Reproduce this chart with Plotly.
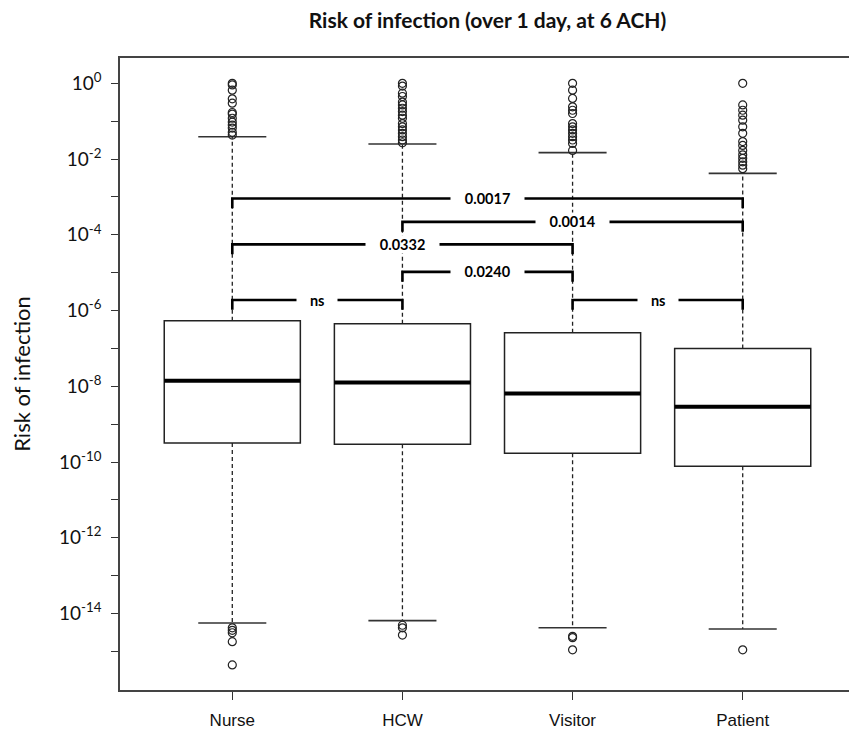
import math
import plotly.graph_objects as go

# ---------------- data ----------------
categories = ["Nurse", "HCW", "Visitor", "Patient"]
q1 = [3.2e-10, 2.95e-10, 1.7e-10, 7.8e-11]
median = [1.4e-8, 1.26e-8, 6.5e-9, 2.9e-9]
q3 = [5.4e-7, 4.5e-7, 2.6e-7, 1.0e-7]
whisker_low = [5.6e-15, 6.5e-15, 4.2e-15, 3.9e-15]
whisker_high = [0.039, 0.025, 0.0148, 0.0042]

nurse_out_high = [1.0, 0.91, 0.66, 0.39, 0.30, 0.17, 0.155, 0.12, 0.095, 0.079, 0.066, 0.051, 0.043]
nurse_out_low = [4.2e-15, 3.6e-15, 3.1e-15, 1.8e-15, 4.4e-16]
hcw_out_high = [1.0, 0.85, 0.55, 0.45, 0.32, 0.27, 0.22, 0.18, 0.145, 0.12, 0.087, 0.071,
                0.059, 0.048, 0.039, 0.032, 0.027]
hcw_out_low = [4.9e-15, 4.2e-15, 2.7e-15]
visitor_out_high = [1.0, 0.66, 0.40, 0.24, 0.195, 0.16, 0.087, 0.071, 0.059, 0.048, 0.039,
                    0.032, 0.026, 0.017]
visitor_out_low = [2.5e-15, 2.3e-15, 1.1e-15]
patient_out_high = [1.0, 0.27, 0.195, 0.145, 0.107, 0.071, 0.048, 0.029, 0.023, 0.017, 0.013,
                    0.0105, 0.0085, 0.0069, 0.0056]
patient_out_low = [1.1e-15]

# significance comparisons
comp_from = ["Nurse", "HCW", "Nurse", "HCW", "Nurse", "Visitor"]
comp_to = ["Patient", "Patient", "Visitor", "Visitor", "HCW", "Patient"]
comp_labels = ["0.0017", "0.0014", "0.0332", "0.0240", "ns", "ns"]

y_major_exponents = [0, -2, -4, -6, -8, -10, -12, -14]
y_minor_exponents = [-1, -3, -5, -7, -9, -11, -13, -15]

# ---------------- layout helpers ----------------
bracket_levels = [9.1e-4, 2.2e-4, 5.6e-5, 1.05e-5, 1.9e-6, 1.9e-6]
bracket_drop = 10 ** -0.26
pos = {c: i + 1 for i, c in enumerate(categories)}
outs_high = [nurse_out_high, hcw_out_high, visitor_out_high, patient_out_high]
outs_low = [nurse_out_low, hcw_out_low, visitor_out_low, patient_out_low]

# the page body adds an 8px margin, so the figure is sized to fit inside it
FIG_W, FIG_H = 849, 728

fig = go.Figure()

# dashed whiskers
wx, wy = [], []
for i, c in enumerate(categories):
    x = pos[c]
    wx += [x, x, None, x, x, None]
    wy += [q3[i], whisker_high[i], None, q1[i], whisker_low[i], None]
fig.add_trace(go.Scatter(x=wx, y=wy, mode="lines",
                         line=dict(color="#222", width=1.3, dash="4px,3px"),
                         hoverinfo="skip", showlegend=False))

# boxes
fig.add_trace(go.Box(x=[pos[c] for c in categories], q1=q1, median=median, q3=q3,
                     lowerfence=q1, upperfence=q3, width=0.8, whiskerwidth=0,
                     fillcolor="white", line=dict(color="#222", width=1.5),
                     boxpoints=False, showlegend=False, hoverinfo="skip"))

# medians (thick)
mx, my = [], []
for i, c in enumerate(categories):
    x = pos[c]
    mx += [x - 0.4, x + 0.4, None]
    my += [median[i], median[i], None]
fig.add_trace(go.Scatter(x=mx, y=my, mode="lines", line=dict(color="black", width=4),
                         hoverinfo="skip", showlegend=False))

# staples
sx, sy = [], []
for i, c in enumerate(categories):
    x = pos[c]
    sx += [x - 0.2, x + 0.2, None, x - 0.2, x + 0.2, None]
    sy += [whisker_high[i], whisker_high[i], None, whisker_low[i], whisker_low[i], None]
fig.add_trace(go.Scatter(x=sx, y=sy, mode="lines", line=dict(color="#333", width=1.6),
                         hoverinfo="skip", showlegend=False))

# outliers
ox, oy = [], []
for i, c in enumerate(categories):
    vals = outs_high[i] + outs_low[i]
    ox += [pos[c]] * len(vals)
    oy += vals
fig.add_trace(go.Scatter(x=ox, y=oy, mode="markers",
                         marker=dict(symbol="circle-open", size=8, color="#222",
                                     line=dict(width=1.2)),
                         hoverinfo="skip", showlegend=False))

# significance brackets
annotations = []
for a, b, lab, h in zip(comp_from, comp_to, comp_labels, bracket_levels):
    xa, xb = pos[a], pos[b]
    fig.add_trace(go.Scatter(x=[xa, xa, xb, xb], y=[h * bracket_drop, h, h, h * bracket_drop],
                             mode="lines", line=dict(color="black", width=2.6),
                             hoverinfo="skip", showlegend=False))
    annotations.append(dict(x=(xa + xb) / 2, y=math.log10(h), xref="x", yref="y",
                            text=f"<b>{lab}</b>", showarrow=False, bgcolor="white",
                            width=len(lab) * 8.2 + 24, height=17, borderpad=0,
                            font=dict(family="Lato", size=14.5, color="black"),
                            xanchor="center", yanchor="middle"))

# y ticks
tickvals = [10.0 ** e for e in y_major_exponents]
ticktext = [f"10<sup>{e}</sup>" for e in y_major_exponents]
minor_vals = [10.0 ** e for e in y_minor_exponents]

fig.update_layout(
    width=FIG_W, height=FIG_H,
    margin=dict(l=112, r=2, t=50, b=46),
    paper_bgcolor="white", plot_bgcolor="white",
    title=dict(text="<b>Risk of infection (over 1 day, at 6 ACH)</b>",
               x=0.5, xref="paper", y=1 - 13 / FIG_H, yref="container",
               xanchor="center", yanchor="middle",
               font=dict(family="Lato", size=21, color="#111")),
    xaxis=dict(range=[0.34, 4.66], tickmode="array", tickvals=[pos[c] for c in categories],
               ticktext=categories, ticks="outside", ticklen=8, tickwidth=1.3,
               tickcolor="#333", showline=True, linecolor="#444", linewidth=1.5,
               mirror=True, showgrid=False, zeroline=False, automargin=False,
               ticklabelstandoff=6,
               tickfont=dict(family="Liberation Sans Narrow, Arial Narrow, Liberation Sans",
                             size=17, color="#111")),
    yaxis=dict(type="log", range=[-16.02, 0.67], tickmode="array", tickvals=tickvals,
               ticktext=ticktext, ticks="outside", ticklen=7, tickwidth=1.3,
               tickcolor="#333", showline=True, linecolor="#444", linewidth=1.5,
               mirror=True, showgrid=False, zeroline=False, automargin=False,
               minor=dict(tickmode="array", tickvals=minor_vals, ticks="outside",
                          ticklen=7, tickwidth=1.3, tickcolor="#333", showgrid=False),
               tickfont=dict(family="Lato", size=19, color="#111"),
               ticklabelstandoff=6,
               title=dict(text="Risk of infection", standoff=24,
                          font=dict(family="Lato", size=22, color="#111"))),
    annotations=annotations,
)

fig.write_html("out.html")
